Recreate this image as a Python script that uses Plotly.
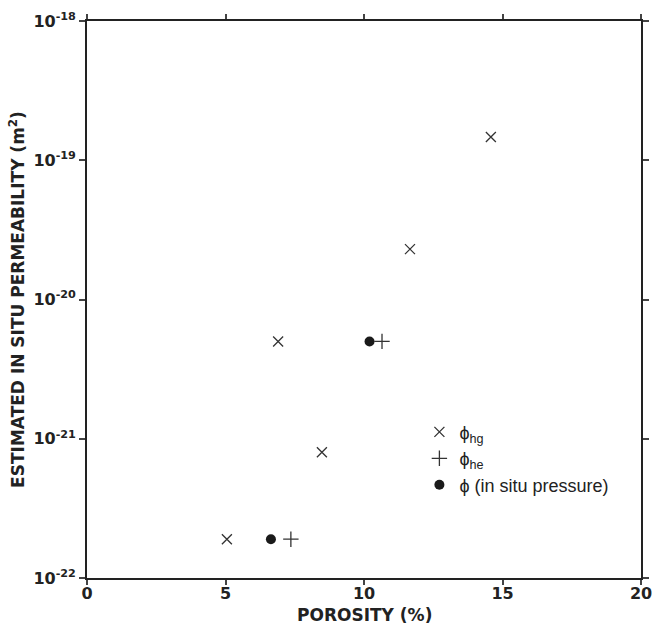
import plotly.graph_objects as go

# phi_hg (x markers)
hg_x = [5.05, 6.9, 8.48, 11.66, 14.58]
hg_y = [1.9e-22, 5.0e-21, 8.0e-22, 2.3e-20, 1.47e-19]
# phi_he (+ markers)
he_x = [7.36, 10.65]
he_y = [1.9e-22, 5.0e-21]
# phi in situ pressure (filled circles)
is_x = [6.64, 10.2]
is_y = [1.9e-22, 5.0e-21]

x_ticks = [0, 5, 10, 15, 20]
y_ticks = [1e-22, 1e-21, 1e-20, 1e-19, 1e-18]
y_ticktext = ["10<sup>-22</sup>", "10<sup>-21</sup>", "10<sup>-20</sup>", "10<sup>-19</sup>", "10<sup>-18</sup>"]

bold_font = "DejaVu Sans, Arial, sans-serif"
leg_font = "Liberation Sans, Arial, sans-serif"
ink = "#222222"
mk = "#333333"

fig = go.Figure()
fig.add_trace(go.Scatter(x=hg_x, y=hg_y, mode="markers", name="ϕ<sub>hg</sub>",
                         marker=dict(symbol="x-thin-open", size=10, color=mk, line=dict(width=1.3, color=mk))))
fig.add_trace(go.Scatter(x=he_x, y=he_y, mode="markers", name="ϕ<sub>he</sub>",
                         marker=dict(symbol="cross-thin-open", size=11, color=mk, line=dict(width=1.3, color=mk))))
fig.add_trace(go.Scatter(x=is_x, y=is_y, mode="markers", name="ϕ (in situ pressure)",
                         marker=dict(symbol="circle", size=10, color="#1a1a1a")))

fig.update_layout(
    width=654, height=627,
    margin=dict(l=87, r=13, t=21, b=49, autoexpand=False),
    paper_bgcolor="white", plot_bgcolor="white",
    font=dict(family=bold_font, color=ink),
    showlegend=True,
    legend=dict(x=0.6, y=0.295, xanchor="left", yanchor="top",
                font=dict(size=18, family=leg_font, color=ink),
                bgcolor="rgba(0,0,0,0)", itemwidth=30, tracegroupgap=0),
    annotations=[dict(text="<b>POROSITY (%)</b>", xref="paper", yref="paper", x=0.5, y=-0.066,
                      xanchor="center", yanchor="middle", showarrow=False,
                      font=dict(size=17, family=bold_font, color=ink))],
)
fig.update_xaxes(range=[0, 20], tickvals=x_ticks, ticks="outside", ticklen=5, tickwidth=1.5,
                 showline=True, linewidth=1.8, linecolor=ink, mirror="allticks", showgrid=False,
                 zeroline=False, automargin=False, ticklabelstandoff=-5,
                 tickfont=dict(size=16, family=bold_font, color=ink, weight="bold"))
fig.update_yaxes(type="log", range=[-22, -18], tickvals=y_ticks, ticktext=y_ticktext,
                 ticks="outside", ticklen=6, tickwidth=1.5,
                 showline=True, linewidth=1.8, linecolor=ink, mirror="allticks", showgrid=False,
                 zeroline=False, automargin=False,
                 tickfont=dict(size=16, family=bold_font, color=ink, weight="bold"),
                 title=dict(text="<b>ESTIMATED IN SITU PERMEABILITY (m<sup>2</sup>)</b>",
                            font=dict(size=17, family=bold_font, color=ink), standoff=4))

fig.write_html("out.html")
